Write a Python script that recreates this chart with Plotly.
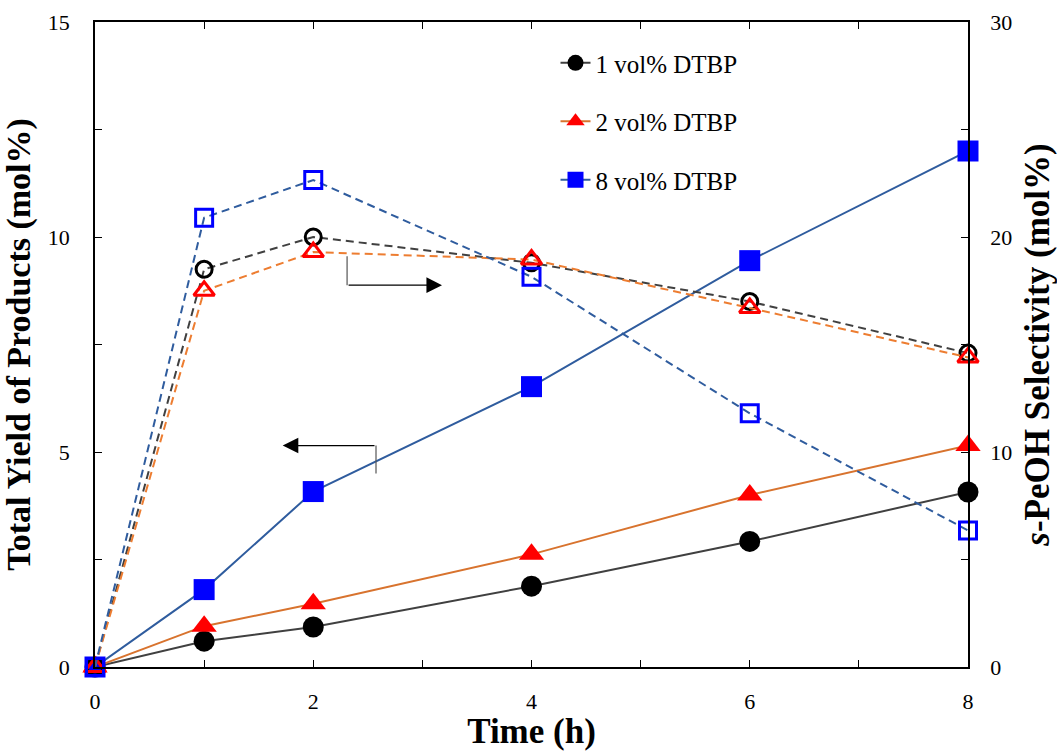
import plotly.graph_objects as go

# Reaction time (h)
time_h = [0, 1, 2, 4, 6, 8]

# Total yield of products (mol%), left axis
yield_1 = [0, 0.60, 0.93, 1.88, 2.92, 4.07]
yield_2 = [0, 0.95, 1.47, 2.62, 4.00, 5.15]
yield_8 = [0, 1.80, 4.08, 6.52, 9.45, 12.0]

# s-PeOH selectivity (mol%), right axis
sel_1 = [0, 18.5, 20.0, 18.8, 17.0, 14.6]
sel_2 = [0, 17.5, 19.3, 18.95, 16.7, 14.4]
sel_8 = [0, 20.9, 22.65, 18.15, 11.8, 6.35]

series_names = ["1 vol% DTBP", "2 vol% DTBP", "8 vol% DTBP"]
line_colors = ["#404040", "#D8732E", "#2F5C9E"]
dash_colors = ["#404040", "#ED7D31", "#2F5C9E"]
marker_colors = ["#000000", "#FF0000", "#0000FF"]
solid_symbols = ["circle", "triangle-up", "square"]
open_symbols = ["circle-open", "triangle-up-open", "square-open"]
solid_sizes = [21, 22, 21]
open_sizes = [16, 18, 17]

FONT = "Liberation Serif"

fig = go.Figure()

yields = [yield_1, yield_2, yield_8]
sels = [sel_1, sel_2, sel_8]

for i in range(3):
    fig.add_trace(go.Scatter(
        x=time_h, y=yields[i], name=series_names[i],
        legendgroup=series_names[i],
        mode="lines+markers",
        line=dict(color=line_colors[i], width=2),
        marker=dict(symbol=solid_symbols[i], size=solid_sizes[i],
                    color=marker_colors[i], line=dict(width=0)),
        cliponaxis=False, yaxis="y",
    ))

for i in range(3):
    fig.add_trace(go.Scatter(
        x=time_h, y=sels[i], name=series_names[i] + " selectivity",
        legendgroup=series_names[i], showlegend=False,
        mode="lines+markers",
        line=dict(color=dash_colors[i], width=2, dash="8px,5px"),
        marker=dict(symbol=open_symbols[i], size=open_sizes[i],
                    color=marker_colors[i], line=dict(width=3, color=marker_colors[i])),
        cliponaxis=False, yaxis="y2",
    ))

# Arrows pointing each group of curves to its axis
arrow_line = dict(color="#555555", width=1.2)
fig.add_shape(type="line", xref="x", yref="y", x0=2.31, x1=2.31, y0=9.55, y1=8.88, line=arrow_line)
fig.add_annotation(xref="x", yref="y", axref="x", ayref="y",
                   x=3.18, y=8.88, ax=2.31, ay=8.88, text="",
                   showarrow=True, arrowhead=2, arrowsize=2.6, arrowwidth=1.2,
                   arrowcolor="#000000")
fig.add_shape(type="line", xref="x", yref="y", x0=2.575, x1=2.575, y0=4.5, y1=5.15, line=arrow_line)
fig.add_annotation(xref="x", yref="y", axref="x", ayref="y",
                   x=1.72, y=5.15, ax=2.575, ay=5.15, text="",
                   showarrow=True, arrowhead=2, arrowsize=2.6, arrowwidth=1.2,
                   arrowcolor="#000000")

axis_common = dict(
    showline=True, linecolor="black", linewidth=1.5,
    showgrid=False, zeroline=False, automargin=False,
    ticks="inside", ticklen=7, tickwidth=1.2, tickcolor="black",
    tickfont=dict(family=FONT, size=22, color="black"),
)

TITLE_SIZE = 34

fig.update_layout(
    width=1057, height=751,
    margin=dict(l=95, r=89, t=22, b=84),
    paper_bgcolor="white", plot_bgcolor="white",
    font=dict(family=FONT, color="black"),
    xaxis=dict(
        range=[0, 8], dtick=2, tick0=0, mirror="ticks",
        minor=dict(dtick=1, ticks="inside", ticklen=7, tickcolor="black", showgrid=False),
        title=dict(text="<b>Time (h)</b>", font=dict(family=FONT, size=35), standoff=4),
        ticklabelstandoff=14,
        **axis_common,
    ),
    yaxis=dict(
        range=[0, 15], dtick=5, tick0=0,
        minor=dict(dtick=2.5, ticks="inside", ticklen=7, tickcolor="black", showgrid=False),
        title=dict(text="<b>Total Yield of Products (mol%)</b>", font=dict(family=FONT, size=TITLE_SIZE), standoff=12),
        ticklabelstandoff=19,
        **axis_common,
    ),
    yaxis2=dict(
        range=[0, 30], dtick=10, tick0=0, overlaying="y", side="right",
        minor=dict(dtick=5, ticks="inside", ticklen=7, tickcolor="black", showgrid=False),
        title=dict(text="<b><i>s</i>-PeOH Selectivity (mol%)</b>", font=dict(family=FONT, size=35), standoff=16),
        ticklabelstandoff=16,
        **axis_common,
    ),
    legend=dict(
        x=0.5275, y=0.972, xanchor="left", yanchor="top",
        font=dict(family=FONT, size=25, color="black"),
        bgcolor="rgba(0,0,0,0)", traceorder="grouped", tracegroupgap=23,
        itemwidth=30,
    ),
)

fig.write_html("out.html")
